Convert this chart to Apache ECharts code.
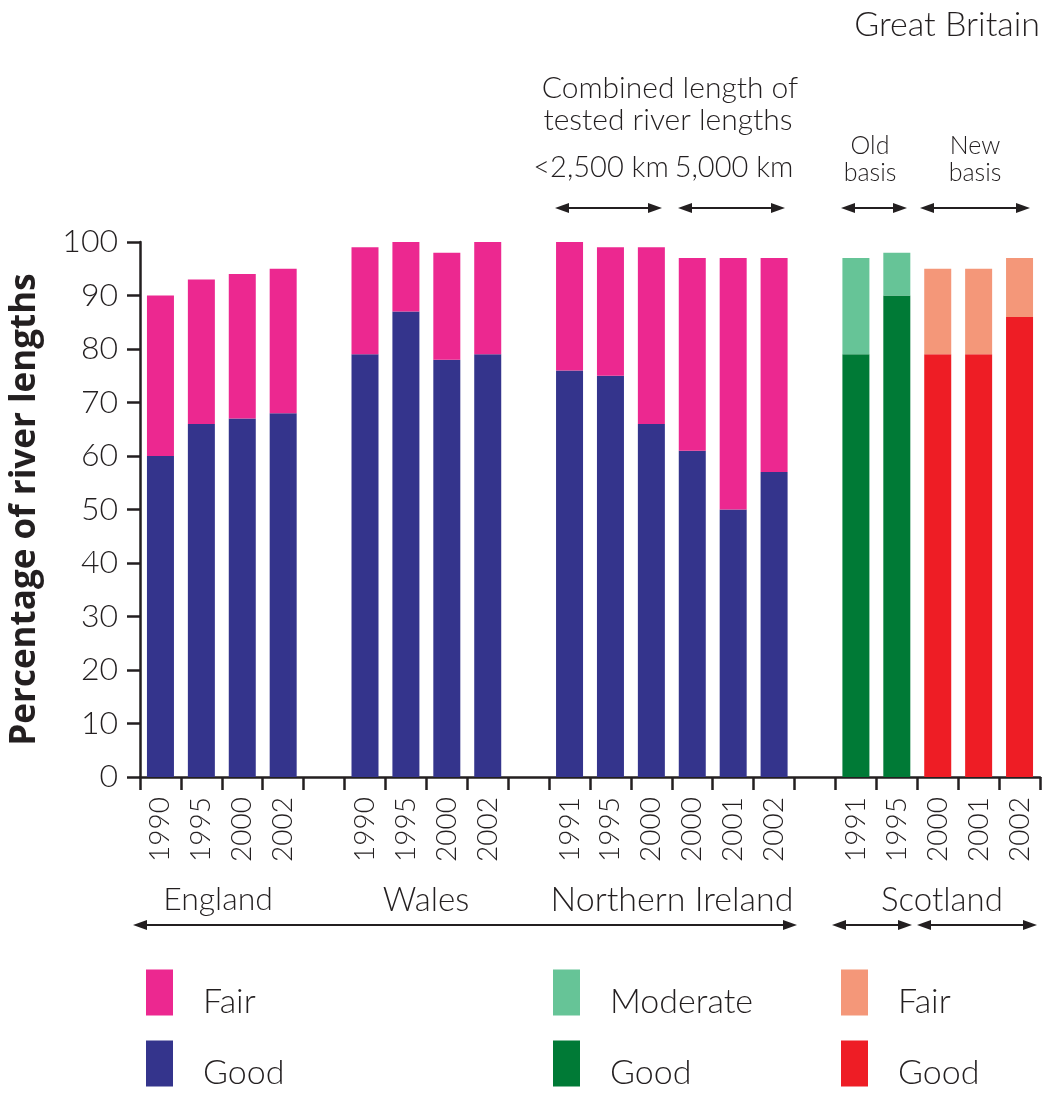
<!DOCTYPE html>
<html>
<head>
<meta charset="utf-8">
<script src="https://cdn.jsdelivr.net/npm/echarts@6/dist/echarts.min.js"></script>
<style>
html,body{margin:0;padding:0;background:#fff;}
#chart{width:1045px;height:1093px;}
</style>
</head>
<body>
<div id="chart"></div>
<script>
// ---- Data ----
var categories = ['1990','1995','2000','2002','', '1990','1995','2000','2002','', '1991','1995','2000','2000','2001','2002','', '1991','1995','2000','2001','2002'];
var englandGood = [60, 66, 67, 68];
var englandFair = [30, 27, 27, 27];
var walesGood = [79, 87, 78, 79];
var walesFair = [20, 13, 20, 21];
var niGood = [76, 75, 66, 61, 50, 57];
var niFair = [24, 24, 33, 36, 47, 40];
var scotOldGood = [79, 90];
var scotOldModerate = [18, 8];
var scotNewGood = [79, 79, 86];
var scotNewFair = [16, 16, 11];
var yTicks = [0, 10, 20, 30, 40, 50, 60, 70, 80, 90, 100];

// ---- Helpers ----
function place(groups) {
  var arr = categories.map(function(){ return '-'; });
  groups.forEach(function(g){
    g.values.forEach(function(v, i){ arr[g.start + i] = v; });
  });
  return arr;
}
var TXT = '#231f20';
var FONT = 'Lato, "Open Sans", sans-serif';

function arrow(x1, x2, y, head, half) {
  return [
    {type:'line', shape:{x1:x1+head-2, y1:y, x2:x2-head+2, y2:y}, style:{stroke:TXT, lineWidth:2}},
    {type:'polygon', shape:{points:[[x1,y],[x1+head,y-half],[x1+head,y+half]]}, style:{fill:TXT}},
    {type:'polygon', shape:{points:[[x2,y],[x2-head,y-half],[x2-head,y+half]]}, style:{fill:TXT}}
  ];
}
function label(text, x, y, size, align) {
  return {type:'text', x:x, y:y, style:{text:text, font:'300 ' + size + 'px ' + FONT, fill:TXT, textAlign:align || 'center', textVerticalAlign:'middle'}};
}

var graphics = [];
graphics.push(label('Great Britain', 1040, 25, 34, 'right'));
graphics.push(label('Combined length of', 670, 88, 30));
graphics.push(label('tested river lengths', 668, 120, 30));
graphics.push(label('<2,500 km', 601, 168, 29));
graphics.push(label('5,000 km', 734, 168, 29));
graphics.push(label('Old', 870, 146, 25));
graphics.push(label('basis', 870, 173, 25));
graphics.push(label('New', 975, 146, 25));
graphics.push(label('basis', 975, 173, 25));
graphics.push(label('England', 218, 900, 32));
graphics.push(label('Wales', 426, 900, 33));
graphics.push(label('Northern Ireland', 672, 900, 34));
graphics.push(label('Scotland', 942, 900, 33));
graphics = graphics.concat(arrow(555, 662, 208, 14, 5));
graphics = graphics.concat(arrow(678, 785, 208, 14, 5));
graphics = graphics.concat(arrow(841, 907, 208, 14, 5));
graphics = graphics.concat(arrow(920, 1030, 208, 14, 5));
graphics = graphics.concat(arrow(133, 797, 925, 14, 5));
graphics = graphics.concat(arrow(832, 912, 925, 14, 5));
graphics = graphics.concat(arrow(917, 1037, 925, 14, 5));

function legendAt(left, names) {
  return {
    data: names, left: left, top: 966, height: 300, orient: 'vertical', icon: 'rect', padding: 0,
    itemWidth: 27, itemHeight: 46, itemGap: 18, selectedMode: false,
    formatter: function(n){ return '\n' + n.replace(/ \(.*\)$/, ''); },
    textStyle: {fontFamily: FONT, fontWeight: 300, fontSize: 34, lineHeight: 19, color: TXT, padding: [0, 0, 0, 25]}
  };
}

function bar(name, color, data) {
  return {name:name, type:'bar', stack:'total', barWidth:27, data:data, itemStyle:{color:color}, emphasis:{disabled:true}};
}

var chart = echarts.init(document.getElementById('chart'), null, {renderer:'canvas'});
chart.setOption({
  animation: false,
  backgroundColor: '#fff',
  grid: {left: 140, right: 5, top: 242, bottom: 316, containLabel: false},
  legend: [
    legendAt(146, ['Fair', 'Good']),
    legendAt(553, ['Moderate', 'Good (old basis)']),
    legendAt(841, ['Fair (new basis)', 'Good (new basis)'])
  ],
  xAxis: {
    type: 'category', data: categories, boundaryGap: true,
    axisLine: {lineStyle: {color: TXT, width: 2.5}},
    axisTick: {show: true, interval: 0, length: 13, lineStyle: {color: TXT, width: 2.5}},
    axisLabel: {interval: 0, rotate: 90, margin: 20, fontFamily: FONT, fontWeight: 300, fontSize: 28, color: TXT}
  },
  yAxis: {
    type: 'value', min: 0, max: 100, interval: 10,
    name: 'Percentage of river lengths', nameLocation: 'middle', nameRotate: 90, nameGap: 97,
    nameTextStyle: {fontFamily: '"Open Sans", sans-serif', fontWeight: 'bold', fontSize: 35, color: TXT},
    splitLine: {show: false},
    axisLine: {show: true, lineStyle: {color: TXT, width: 2.5}},
    axisTick: {show: true, length: 13, lineStyle: {color: TXT, width: 2.5}},
    axisLabel: {margin: 22, fontFamily: FONT, fontWeight: 300, fontSize: 32, color: TXT,
      formatter: function(v){ return yTicks.indexOf(v) >= 0 ? String(v) : ''; }}
  },
  series: [
    bar('Good', '#34348c', place([{start:0, values:englandGood},{start:5, values:walesGood},{start:10, values:niGood}])),
    bar('Fair', '#ec2890', place([{start:0, values:englandFair},{start:5, values:walesFair},{start:10, values:niFair}])),
    bar('Good (old basis)', '#007a36', place([{start:17, values:scotOldGood}])),
    bar('Moderate', '#66c497', place([{start:17, values:scotOldModerate}])),
    bar('Good (new basis)', '#ee1d25', place([{start:19, values:scotNewGood}])),
    bar('Fair (new basis)', '#f49779', place([{start:19, values:scotNewFair}]))
  ],
  graphic: graphics
});
</script>
</body>
</html>
